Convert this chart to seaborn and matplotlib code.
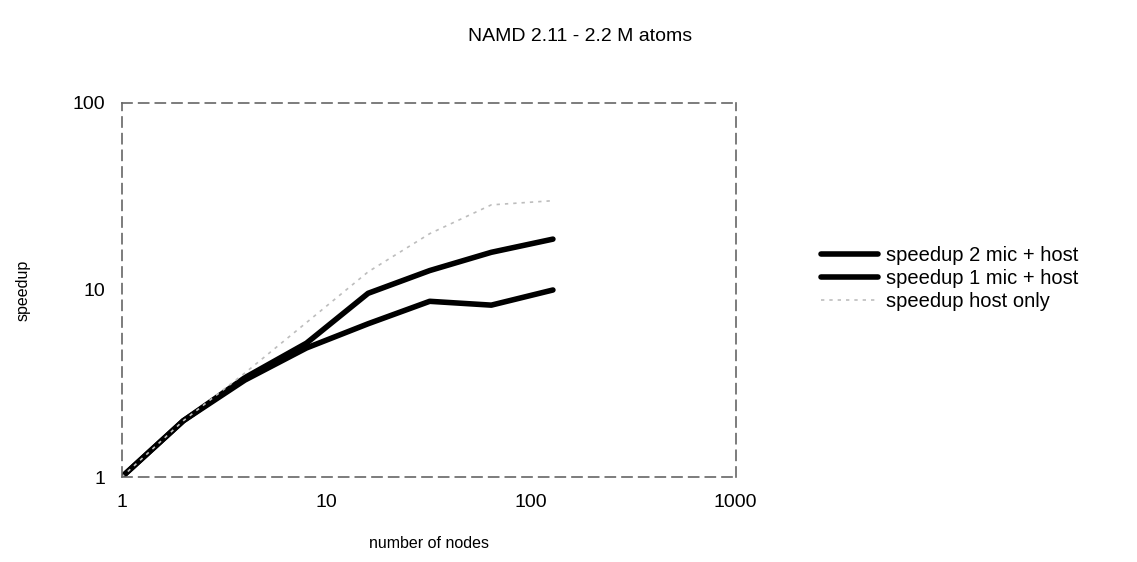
import numpy as np
import pandas as pd
import seaborn as sns
import matplotlib
matplotlib.use("Agg")
import matplotlib.pyplot as plt
from matplotlib.ticker import FixedLocator, FixedFormatter, NullLocator

nodes = [1, 2, 4, 8, 16, 32, 64, 128]
speedup_2mic = [1.0, 2.0, 3.4, 5.2, 9.6, 12.7, 15.9, 18.7]
speedup_1mic = [1.0, 2.0, 3.3, 4.9, 6.6, 8.7, 8.3, 10.0]
speedup_host = [1.0, 2.0, 3.6, 6.7, 12.5, 20.0, 28.5, 30.0]

xticks = [1, 10, 100, 1000]
yticks = [1, 10, 100]

sns.set_theme(style="white")
plt.rcParams['font.family'] = ['Liberation Sans', 'DejaVu Sans']
plt.rcParams['text.color'] = 'black'

df = pd.DataFrame({
    'nodes': nodes * 3,
    'speedup': speedup_2mic + speedup_1mic + speedup_host,
    'series': ['speedup 2 mic + host'] * 8 + ['speedup 1 mic + host'] * 8 + ['speedup host only'] * 8,
})

fig = plt.figure(figsize=(11.37, 5.62), dpi=100)
ax = fig.add_axes([0.107, 0.151, 0.540, 0.666])

sns.lineplot(data=df[df.series == 'speedup 2 mic + host'], x='nodes', y='speedup',
             color='black', linewidth=4, ax=ax, label='speedup 2 mic + host')
sns.lineplot(data=df[df.series == 'speedup 1 mic + host'], x='nodes', y='speedup',
             color='black', linewidth=4, ax=ax, label='speedup 1 mic + host')
sns.lineplot(data=df[df.series == 'speedup host only'], x='nodes', y='speedup',
             color='#bdbdbd', linewidth=1.2, linestyle=(0, (2, 3)), ax=ax,
             label='speedup host only')

ax.set_xscale('log')
ax.set_yscale('log')
ax.set_xlim(1, 1000)
ax.set_ylim(1, 100)
ax.xaxis.set_major_locator(FixedLocator(xticks))
ax.xaxis.set_major_formatter(FixedFormatter([str(t) for t in xticks]))
ax.yaxis.set_major_locator(FixedLocator(yticks))
ax.yaxis.set_major_formatter(FixedFormatter([str(t) for t in yticks]))
ax.xaxis.set_minor_locator(NullLocator())
ax.yaxis.set_minor_locator(NullLocator())
ax.tick_params(axis='both', length=0, labelsize=14, colors='black', pad=12)

for s in ax.spines.values():
    s.set_visible(True)
    s.set_color('#666666')
    s.set_linewidth(1.2)
    s.set_linestyle((0, (6, 4)))

ax.set_xlabel('number of nodes', fontsize=11.5, labelpad=18, color='black')
ax.set_ylabel('speedup', fontsize=11.5, labelpad=30, color='black')
fig.suptitle('NAMD 2.11 - 2.2 M atoms', fontsize=14, x=0.51, y=0.95, color='black')

leg = ax.legend(loc='center left', bbox_to_anchor=(1.11, 0.53), frameon=False,
                fontsize=14.5, handlelength=2.8, handletextpad=0.4, labelspacing=0.2)
for t in leg.get_texts():
    t.set_color('black')

fig.savefig('out.png', dpi=100)
